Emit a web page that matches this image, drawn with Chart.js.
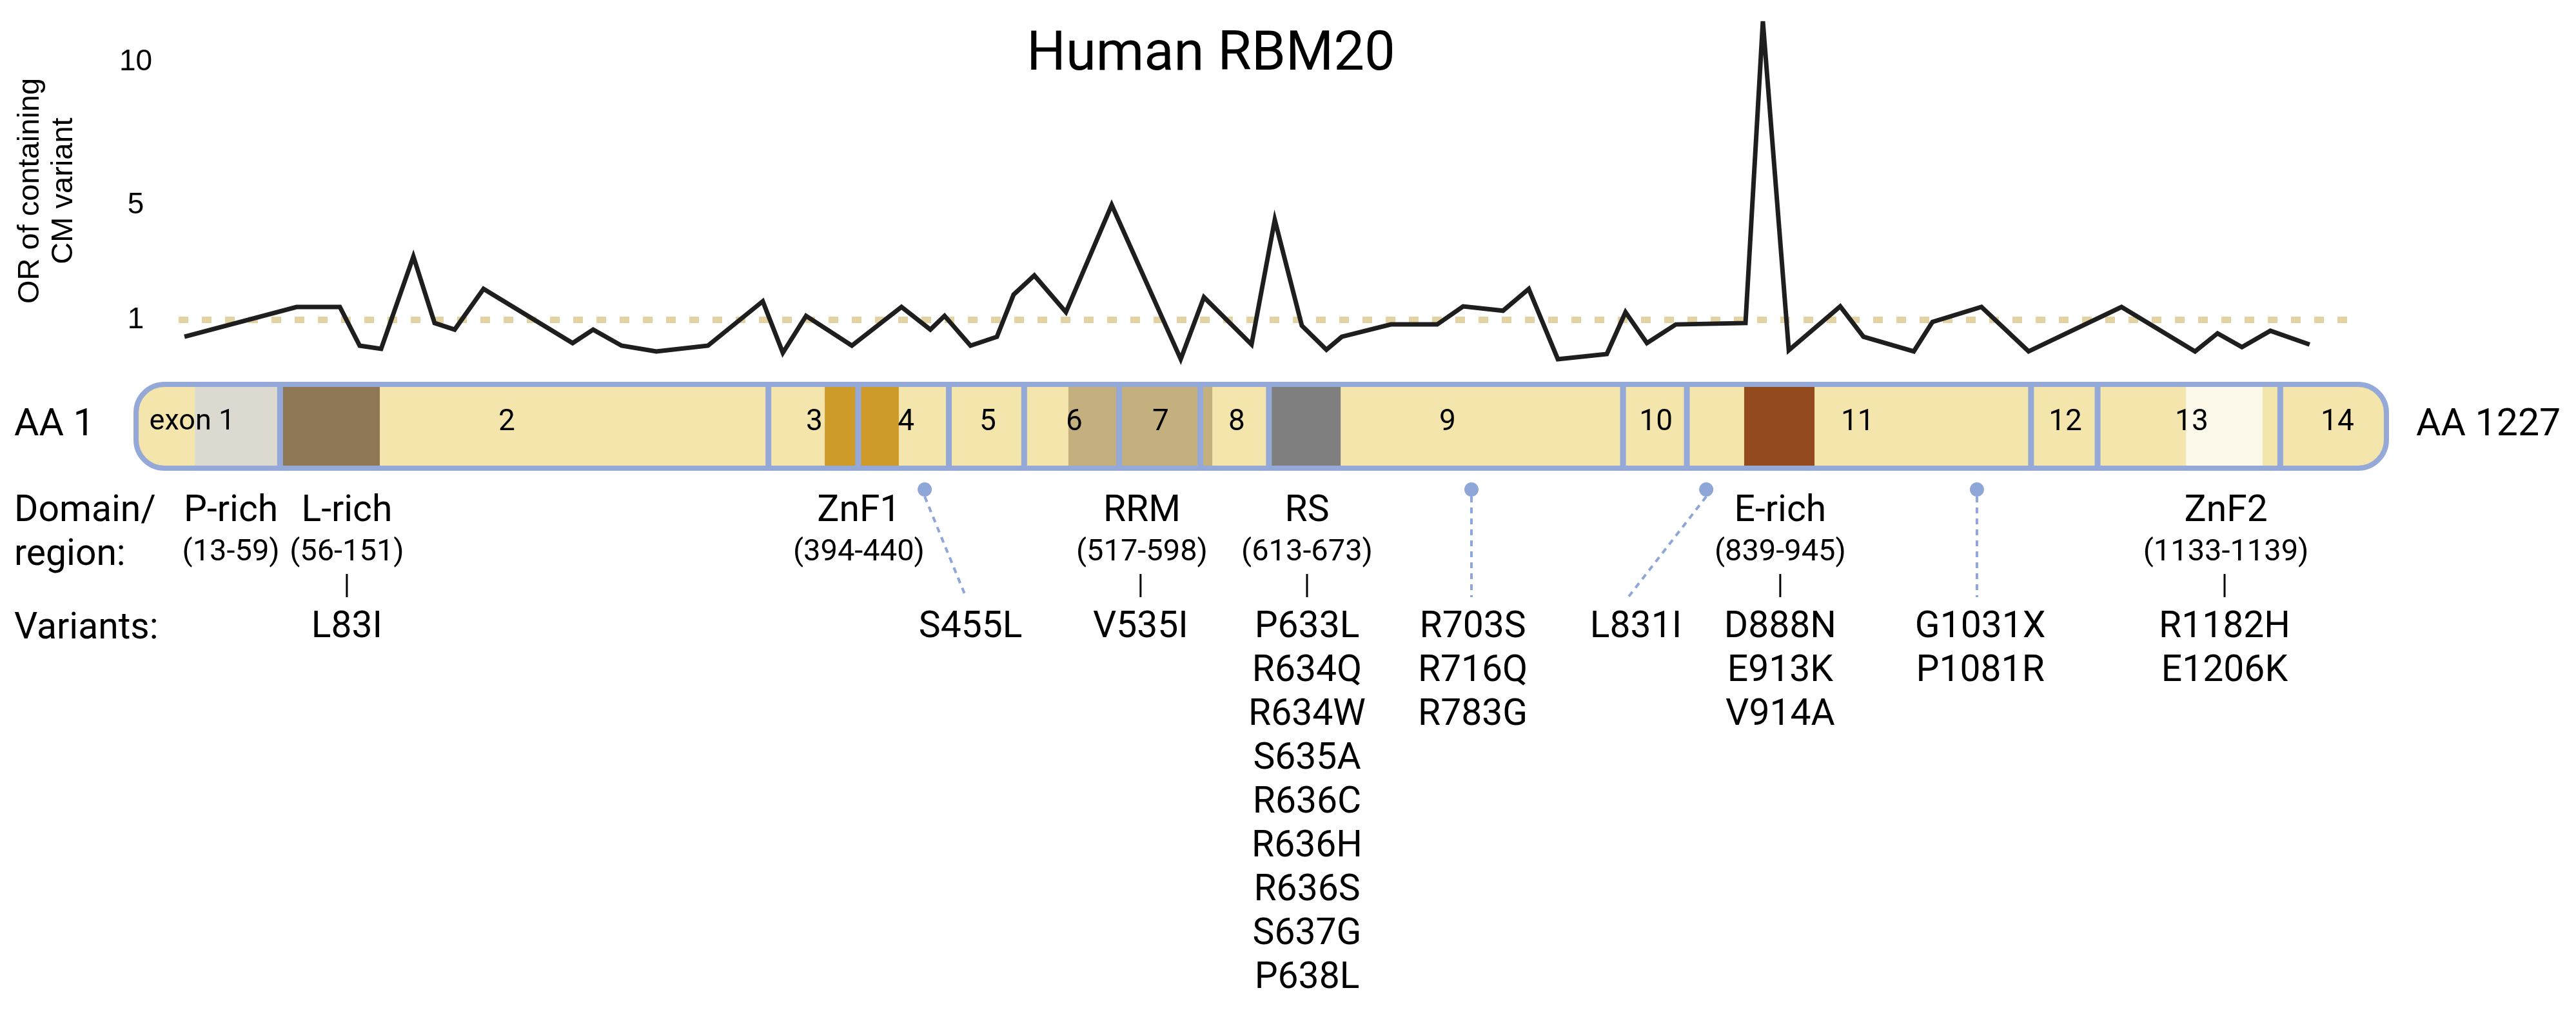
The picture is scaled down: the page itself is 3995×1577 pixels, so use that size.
<!DOCTYPE html>
<html>
<head>
<meta charset="utf-8">
<script src="https://cdn.jsdelivr.net/npm/chart.js@4.4.1/dist/chart.umd.min.js"></script>
<style>
html,body{margin:0;padding:0;background:#ffffff;}
canvas{display:block;}
</style>
</head>
<body>
<canvas id="c" width="3995" height="1577"></canvas>
<script>
// ---------------- DATA ----------------
// x = schematic position along the protein bar (0 = AA 1 end, 100 = AA 1227 end)
const linePositions = [2.26, 7.23, 9.15, 10.03, 10.98, 12.41, 13.35, 14.24, 15.52, 19.47,
  20.38, 21.64, 23.18, 25.47, 27.90, 28.79, 29.82, 31.85, 34.05, 35.33,
  35.96, 37.11, 38.28, 39.02, 39.94, 41.34, 43.37, 46.43, 47.46, 49.57,
  50.60, 51.80, 52.89, 53.57, 55.75, 57.80, 58.95, 60.72, 61.86, 63.15,
  65.32, 66.15, 67.10, 68.38, 71.47, 72.24, 73.39, 75.67, 76.70, 78.93,
  79.76, 81.93, 84.02, 88.14, 91.40, 92.40, 93.48, 94.74, 96.48];
const orValues = [0.41, 1.45, 1.45, 0.10, -0.01, 3.21, 0.89, 0.66, 2.08, 0.19,
  0.66, 0.10, -0.10, 0.10, 1.65, -0.15, 1.14, 0.10, 1.45, 0.66,
  1.14, 0.10, 0.41, 1.88, 2.55, 1.27, 5.01, -0.37, 1.79, 0.14,
  4.49, 0.80, -0.04, 0.41, 0.84, 0.84, 1.47, 1.32, 2.08, -0.37,
  -0.19, 1.27, 0.19, 0.84, 0.89, 11.42, -0.06, 1.47, 0.41, -0.10,
  0.93, 1.45, -0.10, 1.45, -0.10, 0.53, 0.05, 0.62, 0.14];
const yTickValues = [1, 5, 10];
const yTitle = ['OR of containing', 'CM variant'];
const chartTitle = 'Human RBM20';
const referenceOR = 1;
const referenceSpan = [2.0, 98.3];

const exonNames = ['exon 1', '2', '3', '4', '5', '6', '7', '8', '9', '10', '11', '12', '13', '14'];
const exonLabelPositions = [2.60, 16.55, 30.19, 34.25, 37.88, 41.71, 45.54, 48.91, 58.26, 67.50, 76.44, 85.65, 91.25, 97.71];
const exonBoundaries = [6.50, 28.15, 32.13, 36.15, 39.49, 43.70, 47.30, 50.34, 66.04, 68.87, 84.13, 87.08, 95.18];
const proteinEnds = ['AA 1', 'AA 1227'];

const domainNames = ['P-rich', 'L-rich', 'ZnF1', 'RRM', 'RS', 'E-rich', 'ZnF2'];
const domainRanges = ['(13-59)', '(56-151)', '(394-440)', '(517-598)', '(613-673)', '(839-945)', '(1133-1139)'];
const domainStarts = [2.72, 6.50, 30.65, 41.45, 50.43, 71.41, 91.00];
const domainEnds = [6.50, 10.92, 33.93, 47.83, 53.52, 74.53, 94.40];
const domainLabelPositions = [4.32, 9.46, 32.16, 44.71, 52.03, 73.01, 92.77];

const variantGroups = [
  ['L83I'],
  ['S455L'],
  ['V535I'],
  ['P633L', 'R634Q', 'R634W', 'S635A', 'R636C', 'R636H', 'R636S', 'S637G', 'P638L'],
  ['R703S', 'R716Q', 'R783G'],
  ['L831I'],
  ['D888N', 'E913K', 'V914A'],
  ['G1031X', 'P1081R'],
  ['R1182H', 'E1206K']
];
const variantLabelPositions = [9.46, 37.11, 44.65, 52.03, 59.38, 66.61, 73.01, 81.88, 92.71];
// groups outside a domain: dot on the protein and a dashed leader (null = tied to a domain, solid tick)
const variantSitePositions = [null, 35.08, null, null, 59.32, 69.73, null, 81.73, null];
const variantLeaderEnds = [null, 36.91, null, null, 59.32, 66.27, null, 81.73, null];
const rowHeaders = ['Domain/', 'region:', 'Variants:'];

// ---------------- STYLE ----------------
const BAR_LEFT = 207, BAR_RIGHT = 3705;
const X_MIN = -1, X_MAX = 101;
const pxPerUnit = (BAR_RIGHT - BAR_LEFT) / 100;
const axisWidth = BAR_LEFT - (0 - X_MIN) * pxPerUnit;
const rightPad = 3995 - (BAR_RIGHT + (X_MAX - 100) * pxPerUnit);
const Y_MIN = -1, Y_MAX = 12;
const Y_ONE_PX = 496, pxPerOR = 44.44;
const topPad = Y_ONE_PX - (Y_MAX - 1) * pxPerOR;
const bottomPad = 1577 - (Y_ONE_PX + (1 - Y_MIN) * pxPerOR);

const exonFill = '#F3E5AB';
const domainFills = ['#DCDAD0', '#8E7754', '#CE9A2A', '#C4AF7E', '#7F7F7F', '#934A1C', '#FCF9EA'];
const outlineColor = '#94A9D8';
const leaderColor = '#8FA6D8';
const ROBOTO = 'Roboto, "Liberation Sans", sans-serif';

const diagramPlugin = {
  id: 'diagram',
  afterDraw(chart) {
    const ctx = chart.ctx;
    const xs = chart.scales.x;
    const px = v => xs.getPixelForValue(v);
    ctx.save();
    ctx.fillStyle = '#000';

    // title
    ctx.font = '85px ' + ROBOTO;
    ctx.textAlign = 'center';
    ctx.textBaseline = 'alphabetic';
    ctx.fillText(chartTitle, 1878, 108);

    // protein bar
    const L = px(0), R = px(100);
    const top = 596, bot = 726, bw = 8, rad = 44;
    const barPath = () => {
      ctx.beginPath();
      ctx.roundRect(L + bw / 2, top, R - L - bw, bot - top, rad);
    };
    ctx.save();
    barPath();
    ctx.clip();
    ctx.fillStyle = exonFill;
    ctx.fillRect(L, top, R - L, bot - top);
    domainStarts.forEach((s, i) => {
      ctx.fillStyle = domainFills[i];
      ctx.fillRect(px(s), top, px(domainEnds[i]) - px(s), bot - top);
    });
    ctx.strokeStyle = outlineColor;
    ctx.lineWidth = 9;
    exonBoundaries.forEach(b => {
      ctx.beginPath();
      ctx.moveTo(px(b), top);
      ctx.lineTo(px(b), bot);
      ctx.stroke();
    });
    ctx.restore();
    barPath();
    ctx.lineWidth = bw;
    ctx.strokeStyle = outlineColor;
    ctx.stroke();

    // exon labels
    ctx.fillStyle = '#000';
    ctx.textBaseline = 'middle';
    ctx.textAlign = 'center';
    exonNames.forEach((n, i) => {
      ctx.font = (i === 0 ? '45px ' : '46px ') + ROBOTO;
      ctx.fillText(n, px(exonLabelPositions[i]), 655);
    });

    // protein ends
    ctx.font = '59px ' + ROBOTO;
    ctx.textAlign = 'left';
    ctx.fillText(proteinEnds[0], 22, 660);
    ctx.fillText(proteinEnds[1], 3747, 660);

    // row headers
    ctx.textBaseline = 'alphabetic';
    ctx.font = '57px ' + ROBOTO;
    ctx.fillText(rowHeaders[0], 22, 808);
    ctx.fillText(rowHeaders[1], 22, 876);
    ctx.fillText(rowHeaders[2], 22, 990);

    // domain labels
    ctx.textAlign = 'center';
    domainNames.forEach((n, i) => {
      const x = px(domainLabelPositions[i]);
      ctx.font = '57px ' + ROBOTO;
      ctx.fillText(n, x, 808);
      ctx.font = '47px ' + ROBOTO;
      ctx.fillText(domainRanges[i], x, 869);
    });

    // variants and connectors
    variantGroups.forEach((g, i) => {
      const x = px(variantLabelPositions[i]);
      ctx.font = '57px ' + ROBOTO;
      ctx.fillStyle = '#000';
      g.forEach((v, j) => ctx.fillText(v, x, 988 + 68 * j));
      if (variantSitePositions[i] === null) {
        ctx.strokeStyle = '#000';
        ctx.lineWidth = 3;
        ctx.setLineDash([]);
        ctx.beginPath();
        ctx.moveTo(x, 890);
        ctx.lineTo(x, 926);
        ctx.stroke();
      } else {
        const sx = px(variantSitePositions[i]);
        const ex = px(variantLeaderEnds[i]);
        ctx.strokeStyle = leaderColor;
        ctx.lineWidth = 4;
        ctx.setLineDash([9, 8]);
        ctx.beginPath();
        ctx.moveTo(sx, 770);
        ctx.lineTo(ex, 926);
        ctx.stroke();
        ctx.setLineDash([]);
        ctx.fillStyle = leaderColor;
        ctx.beginPath();
        ctx.arc(sx, 759, 11, 0, Math.PI * 2);
        ctx.fill();
      }
    });
    ctx.restore();
  }
};

function build() {
  new Chart(document.getElementById('c'), {
    type: 'line',
    data: {
      datasets: [
        {
          label: 'OR of containing CM variant',
          data: linePositions.map((x, i) => ({ x: x, y: orValues[i] })),
          borderColor: '#1e1e1e',
          borderWidth: 7,
          pointRadius: 0,
          tension: 0,
          fill: false,
          clip: false
        },
        {
          label: 'OR = 1',
          data: referenceSpan.map(x => ({ x: x, y: referenceOR })),
          borderColor: '#E3D3A2',
          borderWidth: 10,
          borderDash: [15, 21],
          borderCapStyle: 'butt',
          pointRadius: 0,
          fill: false,
          clip: false
        }
      ]
    },
    options: {
      responsive: false,
      devicePixelRatio: 1,
      animation: false,
      events: [],
      layout: { padding: { left: 0, right: rightPad, top: topPad, bottom: bottomPad } },
      plugins: { legend: { display: false }, tooltip: { enabled: false }, title: { display: false } },
      scales: {
        x: { type: 'linear', min: X_MIN, max: X_MAX, display: false },
        y: {
          type: 'linear',
          position: 'left',
          min: Y_MIN,
          max: Y_MAX,
          afterBuildTicks: s => { s.ticks = yTickValues.map(v => ({ value: v })); },
          afterFit: s => { s.width = axisWidth; s.paddingTop = 0; s.paddingBottom = 0; },
          grid: { display: false, drawTicks: false },
          border: { display: false },
          ticks: {
            mirror: true,
            crossAlign: 'center',
            padding: 13,
            color: '#000',
            font: { family: '"Liberation Sans", Arial, sans-serif', size: 46 },
            callback: v => String(v)
          },
          title: {
            display: true,
            text: yTitle,
            color: '#000',
            font: { family: '"Liberation Sans", Arial, sans-serif', size: 47, lineHeight: 1.1 },
            padding: { top: 21, bottom: 0 }
          }
        }
      }
    },
    plugins: [diagramPlugin]
  });
}

Promise.all(['85px Roboto', '46px "Liberation Sans"'].map(f => document.fonts.load(f)))
  .catch(() => {})
  .then(build);
</script>
</body>
</html>
